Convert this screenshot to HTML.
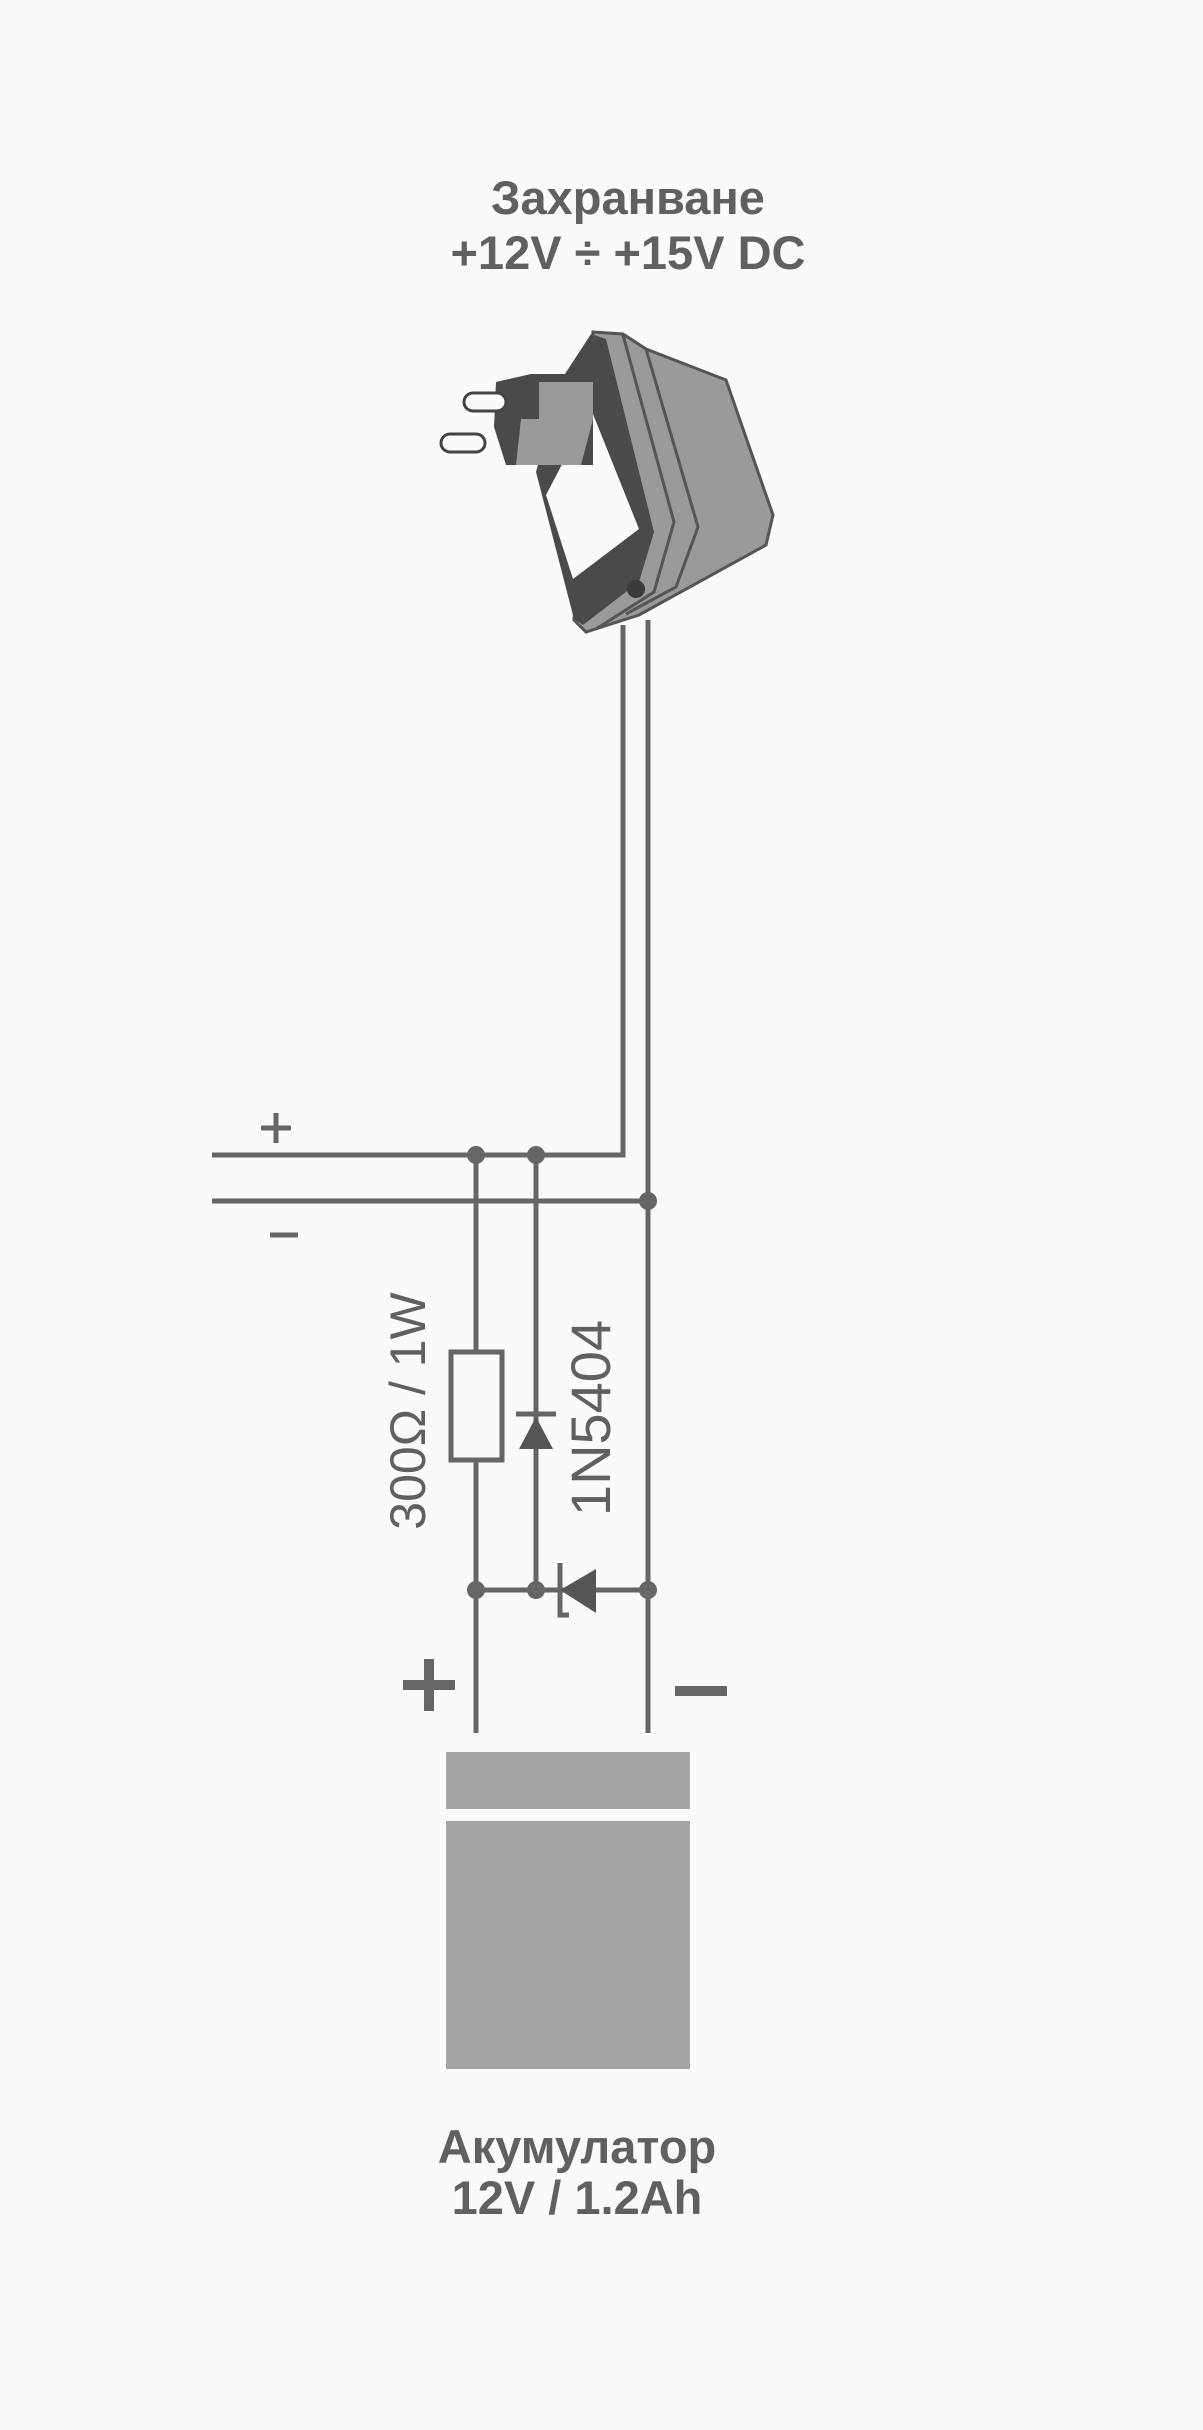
<!DOCTYPE html>
<html><head><meta charset="utf-8"><style>
html,body{margin:0;padding:0;background:#fafafa;}
svg{display:block}
text{font-family:"Liberation Sans",sans-serif;fill:#606060}
</style></head><body>
<svg width="1203" height="2430" viewBox="0 0 1203 2430">
<text x="628" y="214" font-size="47" font-weight="bold" text-anchor="middle">Захранване</text>
<text x="628" y="269" font-size="47" font-weight="bold" text-anchor="middle">+12V ÷ +15V DC</text>
<!-- adapter -->
<g transform="translate(6,2)">
<polygon points="587,330 617,332 640,347 720,378 767,513 760,543 633,613 580,630 568,618" fill="#9a9a9a" stroke="#555" stroke-width="3"/>
<polyline points="617,333 668,520 648,590 590,627" fill="none" stroke="#555" stroke-width="3"/>
<polyline points="640,347 692,525 670,585 620,612" fill="none" stroke="#555" stroke-width="3"/>
<polygon points="585,332 600,337 648,530 633,580 577,623 568,617 530,470 555,378" fill="#4a4a4a"/>
<polygon points="585,407 633,527 567,577 540,493" fill="#fafafa"/>
<polygon points="525,372 587,372 587,463 500,463 488,425 490,380" fill="#4a4a4a"/>
<rect x="533" y="380" width="54" height="37" fill="#9a9a9a"/>
<polygon points="515,417 587,417 575,463 510,463" fill="#9a9a9a"/>
<rect x="458" y="391" width="42" height="18" rx="9" fill="#fafafa" stroke="#444" stroke-width="3"/>
<rect x="435" y="432" width="44" height="18" rx="9" fill="#fafafa" stroke="#444" stroke-width="3"/>
<circle cx="630" cy="587" r="9" fill="#3a3a3a"/>
</g>
<g stroke="#666" stroke-width="5" fill="none">
<polyline points="623,625 623,1155 212,1155"/>
<line x1="648" y1="620" x2="648" y2="1733"/>
<line x1="212" y1="1201" x2="648" y2="1201"/>
<line x1="476" y1="1155" x2="476" y2="1352"/>
<line x1="476" y1="1460" x2="476" y2="1733"/>
<rect x="451" y="1352" width="51" height="108"/>
<line x1="536" y1="1155" x2="536" y2="1590"/>
<line x1="516" y1="1414" x2="556" y2="1414"/>
<line x1="476" y1="1590" x2="648" y2="1590"/>
<polyline points="560,1563 560,1615 569,1615"/>
<line x1="261" y1="1128" x2="291" y2="1128"/>
<line x1="276" y1="1113" x2="276" y2="1143"/>
<line x1="270" y1="1235" x2="298" y2="1235"/>
</g>
<polygon points="536,1417 519,1449 553,1449" fill="#555"/>
<polygon points="560,1590 596,1569 596,1613" fill="#555"/>
<g fill="#666">
<circle cx="476" cy="1155" r="9"/><circle cx="536" cy="1155" r="9"/>
<circle cx="648" cy="1201" r="9"/>
<circle cx="476" cy="1590" r="9"/><circle cx="536" cy="1590" r="9"/><circle cx="648" cy="1590" r="9"/>
<rect x="403" y="1680" width="52" height="10"/><rect x="424" y="1659" width="10" height="52"/>
<rect x="675" y="1686" width="52" height="10"/>
</g>
<rect x="446" y="1752" width="244" height="57" fill="#a5a5a5"/>
<rect x="446" y="1821" width="244" height="248" fill="#a5a5a5"/>
<text transform="translate(425,1411) rotate(-90)" font-size="50" text-anchor="middle">300Ω / 1W</text>
<text transform="translate(610,1418) rotate(-90)" font-size="56" text-anchor="middle">1N5404</text>
<text x="577" y="2163" font-size="47" font-weight="bold" text-anchor="middle">Акумулатор</text>
<text x="577" y="2214" font-size="47" font-weight="bold" text-anchor="middle">12V / 1.2Ah</text>
</svg>
</body></html>
